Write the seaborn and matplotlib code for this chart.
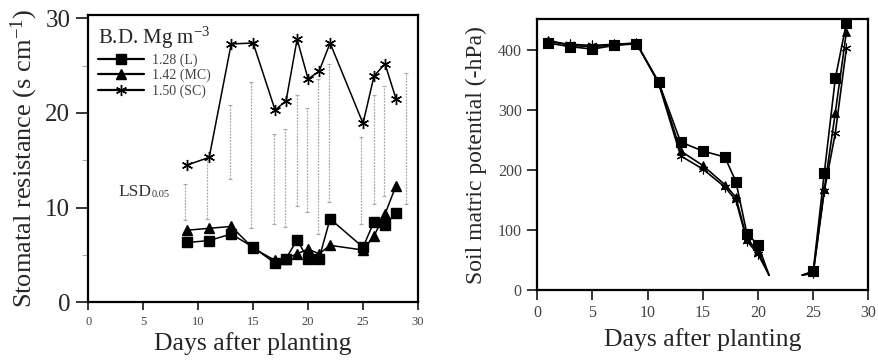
import matplotlib
matplotlib.use("Agg")
import matplotlib.pyplot as plt
import seaborn as sns
import pandas as pd
import numpy as np

# ---------------- data ----------------
# Left panel: stomatal resistance (s cm-1)
days_left = [9, 11, 13, 15, 17, 18, 19, 20, 21, 22, 25, 26, 27, 28]
sr_L = [6.3, 6.5, 7.2, 5.8, 4.1, 4.6, 6.6, 4.5, 4.6, 8.8, 5.8, 8.5, 8.1, 9.4]
sr_MC = [7.6, 7.8, 8.0, 5.7, 4.4, 4.6, 5.1, 5.6, 5.1, 6.0, 5.5, 7.0, 9.3, 12.3]
sr_SC = [14.5, 15.3, 27.3, 27.4, 20.3, 21.3, 27.8, 23.6, 24.4, 27.4, 18.9, 23.9, 25.2, 21.5]

# LSD(0.05) bars
lsd_x = [8.8, 10.8, 12.9, 14.8, 16.9, 17.9, 19.0, 19.9, 20.9, 21.9, 24.8, 26.0, 26.9, 28.9]
lsd_top = [12.5, 15.0, 20.8, 23.3, 17.8, 18.3, 21.9, 20.5, 23.6, 25.2, 17.5, 21.9, 22.8, 24.2]
lsd_bot = [8.7, 8.8, 13.0, 7.8, 8.3, 7.9, 10.2, 9.5, 7.2, 10.6, 8.3, 10.4, 11.2, 10.4]

# Right panel: soil matric potential (-hPa)
days_right = [1, 3, 5, 7, 9, 11, 13, 15, 17, 18, 19, 20, 21, 24, 25, 26, 27, 28]
smp_L = [412, 406, 402, 408, 411, 347, 247, 232, 222, 181, 94, 76, 25, 25, 32, 195, 353, 445]
smp_MC = [417, 408, 406, 409, 412, 347, 232, 208, 176, 155, 85, 65, 25, 25, 30, 168, 296, 430]
smp_SC = [414, 410, 408, 410, 412, 345, 224, 202, 172, 150, 82, 60, 25, 25, 28, 165, 262, 403]
gap_ends = [21, 24]  # line ends (no marker), gap between them

labels = ["1.28 (L)", "1.42 (MC)", "1.50 (SC)"]
legend_title = "B.D. Mg m$^{-3}$"

# ---------------- style ----------------
sns.set_theme(style="ticks")
plt.rcParams["font.family"] = ["Liberation Serif", "DejaVu Serif"]
plt.rcParams["mathtext.fontset"] = "custom"
plt.rcParams["mathtext.rm"] = "Liberation Serif"
plt.rcParams["mathtext.it"] = "Liberation Serif"
plt.rcParams["axes.edgecolor"] = "black"
plt.rcParams["axes.linewidth"] = 1.5

fig = plt.figure(figsize=(8.79, 3.60), dpi=100)
axL = fig.add_axes([0.1005, 0.161, 0.375, 0.797])
axR = fig.add_axes([0.611, 0.194, 0.377, 0.753])

markers = ["s", "^", (6, 2, 0)]
msizes = [7, 7, 8]

# ---- left panel ----
dfL = pd.DataFrame({"day": days_left * 3,
                    "val": sr_L + sr_MC + sr_SC,
                    "grp": sum([[l] * len(days_left) for l in labels], [])})

# LSD bars
axL.vlines(lsd_x, lsd_bot, lsd_top, colors="#a8a8a8", linestyles=(0, (1.5, 1.0)), linewidth=0.9, zorder=1)
axL.scatter(lsd_x + lsd_x, lsd_top + lsd_bot, marker="_", s=10, color="#a8a8a8", linewidths=0.8, zorder=1)

for lab, mk, ms in zip(labels, markers, msizes):
    sub = dfL[dfL.grp == lab]
    sns.lineplot(data=sub, x="day", y="val", ax=axL, color="black", linewidth=1.1,
                 marker=mk, markersize=ms, markeredgecolor="black", markerfacecolor="black",
                 markeredgewidth=1.0, label=lab, zorder=3)

axL.set_xlim(0, 30)
axL.set_ylim(0, 30.35)
axL.set_xticks(range(0, 31, 5))
axL.set_yticks([0, 10, 20, 30])
axL.set_yticks([5, 15, 25], minor=True)
axL.tick_params(axis="y", which="major", direction="out", length=9, width=1.3, labelsize=18, pad=4)
axL.tick_params(axis="y", which="minor", direction="out", length=4, width=0.8, color="#aaaaaa")
axL.tick_params(axis="x", which="major", direction="out", length=6, width=1.3, labelsize=9, pad=4, labelcolor="#444444")
axL.set_xlabel("Days after planting", fontsize=18.5, labelpad=3)
axL.set_ylabel("Stomatal resistance (s cm$^{-1}$)", fontsize=19, labelpad=4)
for s in axL.spines.values():
    s.set_visible(True)
    s.set_linewidth(1.6)

leg = axL.legend(loc="upper left", bbox_to_anchor=(0.0, 1.0), frameon=False,
                 title=legend_title, title_fontsize=15, fontsize=10,
                 handlelength=3.3, handletextpad=0.6, labelspacing=0.15,
                 borderaxespad=0.3, alignment="left", markerscale=1.0)
for t in leg.get_texts():
    t.set_color("#444444")
for h in leg.legend_handles:
    h.set_linewidth(1.6)

axL.text(2.7, 11.6, "LSD", fontsize=12.5, ha="left", va="center", color="#333333")
axL.text(5.75, 11.35, "0.05", fontsize=7.5, ha="left", va="center", color="#333333")

# ---- right panel ----
dfR = pd.DataFrame({"day": days_right * 3,
                    "val": smp_L + smp_MC + smp_SC,
                    "grp": sum([[l] * len(days_right) for l in labels], [])})
dfR["seg"] = np.where(dfR["day"] <= gap_ends[0], 0, 1)

mk_sizes_R = [7.5, 5.5, 6.5]
for lab, mk, ms in zip(labels, markers, mk_sizes_R):
    sub = dfR[dfR.grp == lab]
    for seg in [0, 1]:
        sseg = sub[sub.seg == seg]
        sns.lineplot(data=sseg, x="day", y="val", ax=axR, color="black", linewidth=1.2,
                     legend=False, zorder=3)
    smk = sub[~sub.day.isin(gap_ends)]
    sns.scatterplot(data=smk, x="day", y="val", ax=axR, marker=mk, s=ms ** 2,
                    color="black", edgecolor="black", linewidth=0.8, legend=False, zorder=4)

axR.set_xlim(0, 30)
axR.set_ylim(0, 452)
axR.set_xticks(range(0, 31, 5))
axR.set_yticks(range(0, 401, 100))
axR.tick_params(axis="both", which="major", direction="out", length=7, width=1.3, labelsize=11.5, pad=4, labelcolor="#444444")
axR.set_xlabel("Days after planting", fontsize=18.5, labelpad=5)
axR.set_ylabel("Soil matric potential (-hPa)", fontsize=17, labelpad=8)
for s in axR.spines.values():
    s.set_visible(True)
    s.set_linewidth(1.6)

fig.savefig("out.png", dpi=100)
